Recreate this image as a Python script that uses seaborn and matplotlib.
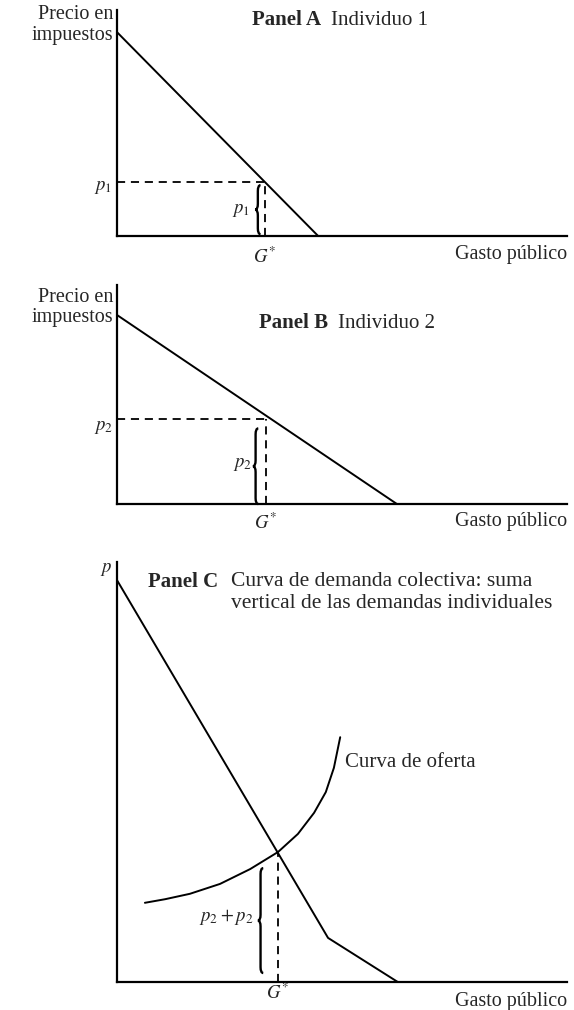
import matplotlib
matplotlib.use("Agg")
import matplotlib.pyplot as plt
import seaborn as sns
import pandas as pd
from matplotlib.path import Path
from matplotlib.patches import PathPatch

sns.set_theme(style="white")
plt.rcParams['font.family'] = ['Liberation Serif', 'DejaVu Serif']
plt.rcParams['mathtext.fontset'] = 'stix'

# ---- data (G = gasto público, p = precio en impuestos), arbitrary units ----
g_demand_a = [0.0, 4.47]
p_demand_a = [4.53, 0.0]
g_star_a = 3.29
p1 = 1.21

g_demand_b = [0.0, 6.22]
p_demand_b = [4.20, 0.0]
g_star_b = 3.31
p2 = 1.90

g_demand_c = [0.0, 4.69, 6.24]
p_demand_c = [8.93, 0.98, 0.0]
g_supply_c = [0.62, 1.07, 1.62, 2.29, 2.96, 3.58, 4.02, 4.38, 4.64, 4.82, 4.96]
p_supply_c = [1.76, 1.84, 1.96, 2.18, 2.51, 2.89, 3.29, 3.76, 4.22, 4.76, 5.44]
g_star_c = 3.58
p_star_c = 2.87

x_label = "Gasto público"
y_label = "Precio en\nimpuestos"

FS = 14.5      # labels
FT = 15.0      # titles
FM = 13.5      # math labels
LW = 1.4
W, H = 574, 1010
UNIT = 45.0  # px per data unit

fig = plt.figure(figsize=(W / 100, H / 100), dpi=100)
fig.patch.set_facecolor("white")


def make_axes(top_px, bottom_px, left_px=117, right_px=567):
    ax = fig.add_axes([left_px / W, 1 - bottom_px / H,
                       (right_px - left_px) / W, (bottom_px - top_px) / H])
    ax.set_xlim(0, (right_px - left_px) / UNIT)
    ax.set_ylim(0, (bottom_px - top_px) / UNIT)
    ax.set_facecolor("white")
    for s in ["top", "right"]:
        ax.spines[s].set_visible(False)
    for s in ["left", "bottom"]:
        ax.spines[s].set_color("black")
        ax.spines[s].set_linewidth(1.6)
    ax.set_xticks([])
    ax.set_yticks([])
    ax.set_xlabel("")
    ax.set_ylabel("")
    return ax


def brace(ax, x, y0, y1, w=0.12, h=0.13):
    ym = (y0 + y1) / 2
    xm = x - w / 2
    verts = [(x, y1), (xm, y1), (xm, y1 - h), (xm, ym + h), (xm, ym), (x - w, ym),
             (xm, ym), (xm, ym - h), (xm, y0 + h), (xm, y0), (x, y0)]
    codes = [Path.MOVETO, Path.CURVE3, Path.CURVE3, Path.LINETO, Path.CURVE3, Path.CURVE3,
             Path.CURVE3, Path.CURVE3, Path.LINETO, Path.CURVE3, Path.CURVE3]
    ax.add_patch(PathPatch(Path(verts, codes), fill=False, lw=1.7, color="black",
                           clip_on=False))


def line(ax, xs, ys):
    df = pd.DataFrame({"x": xs, "y": ys})
    sns.lineplot(data=df, x="x", y="y", ax=ax, color="black", lw=LW,
                 sort=False, estimator=None, clip_on=False)
    ax.set_xlabel("")
    ax.set_ylabel("")


def dashed(ax, xs, ys):
    ax.plot(xs, ys, color="black", lw=1.3, ls=(0, (4.5, 3.2)), clip_on=False)


def title(ax, x, y, bold, rest):
    t = ax.text(x, y, bold, fontsize=FT, weight="bold", ha="left", va="center")
    ax.annotate(rest, xy=(1, 0), xycoords=t, xytext=(7, 0), textcoords="offset points",
                fontsize=FT, ha="left", va="bottom")


# ---------------- Panel A ----------------
axA = make_axes(10, 236)
line(axA, g_demand_a, p_demand_a)
dashed(axA, [0, g_star_a], [p1, p1])
dashed(axA, [g_star_a, g_star_a], [0, p1])
brace(axA, g_star_a - 0.1, 0.04, p1 - 0.08)
axA.text(-0.09, 4.69, y_label, ha="right", va="center", fontsize=FS, linespacing=1.08)
title(axA, 3.0, 4.8, "Panel A", "Individuo 1")
axA.text(-0.11, 1.07, "$p_1$", ha="right", va="center", fontsize=FM)
axA.text(2.96, 0.56, "$p_1$", ha="right", va="center", fontsize=FM)
axA.text(g_star_a, -0.47, "$G^{*}$", ha="center", va="center", fontsize=FM)
axA.text(10.0, -0.42, x_label, ha="right", va="center", fontsize=FS)

# ---------------- Panel B ----------------
axB = make_axes(285, 504)
line(axB, g_demand_b, p_demand_b)
dashed(axB, [0, g_star_b], [p2, p2])
dashed(axB, [g_star_b, g_star_b], [0, p2])
brace(axB, g_star_b - 0.17, 0.0, p2 - 0.22)
axB.text(-0.09, 4.36, y_label, ha="right", va="center", fontsize=FS, linespacing=1.08)
title(axB, 3.15, 4.03, "Panel B", "Individuo 2")
axB.text(-0.09, 1.69, "$p_2$", ha="right", va="center", fontsize=FM)
axB.text(3.0, 0.87, "$p_2$", ha="right", va="center", fontsize=FM)
axB.text(g_star_b, -0.42, "$G^{*}$", ha="center", va="center", fontsize=FM)
axB.text(10.0, -0.38, x_label, ha="right", va="center", fontsize=FS)

# ---------------- Panel C ----------------
axC = make_axes(562, 982)
line(axC, g_demand_c, p_demand_c)
line(axC, g_supply_c, p_supply_c)
dashed(axC, [g_star_c, g_star_c], [0, p_star_c])
brace(axC, g_star_c - 0.33, 0.2, 2.53)
axC.text(-0.24, 9.16, "$p$", ha="center", va="center", fontsize=FM)
axC.text(0.69, 8.89, "Panel C", fontsize=FT, weight="bold", ha="left", va="center")
axC.text(2.53, 8.89, "Curva de demanda colectiva: suma", fontsize=FT + 0.5,
         ha="left", va="center")
axC.text(2.53, 8.42, "vertical de las demandas individuales", fontsize=FT + 0.5,
         ha="left", va="center")
axC.text(5.07, 4.87, "Curva de oferta", fontsize=FT, ha="left", va="center")
axC.text(3.02, 1.44, "$p_2 + p_2$", ha="right", va="center", fontsize=FM)
axC.text(g_star_c, -0.25, "$G^{*}$", ha="center", va="center", fontsize=FM)
axC.text(10.0, -0.44, x_label, ha="right", va="center", fontsize=FS)

fig.savefig("out.png", dpi=100, facecolor="white")
